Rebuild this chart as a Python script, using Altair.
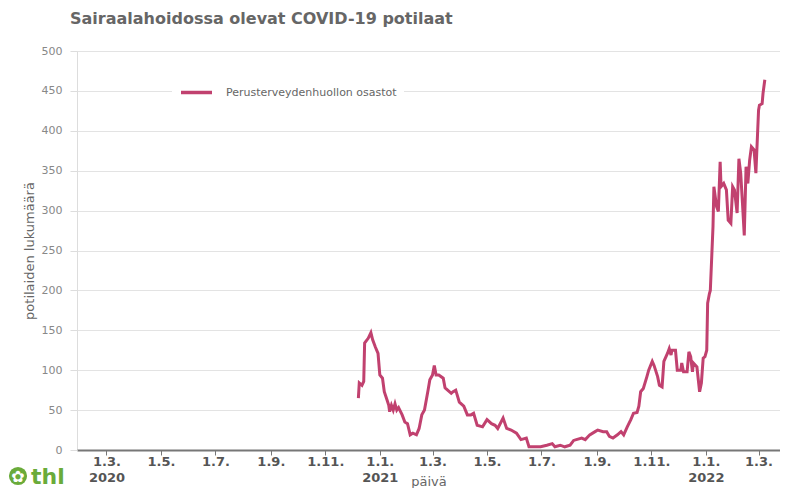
import altair as alt
import pandas as pd

dates = [
    "2020-12-08", "2020-12-09", "2020-12-12", "2020-12-14", "2020-12-15", "2020-12-17",
    "2020-12-19", "2020-12-22", "2020-12-24", "2020-12-27", "2020-12-30", "2021-01-01",
    "2021-01-04", "2021-01-06", "2021-01-09", "2021-01-11", "2021-01-12", "2021-01-14",
    "2021-01-16", "2021-01-18", "2021-01-20", "2021-01-22", "2021-01-26", "2021-01-29",
    "2021-02-01", "2021-02-04", "2021-02-07", "2021-02-11", "2021-02-14", "2021-02-17",
    "2021-02-20", "2021-02-24", "2021-02-26", "2021-03-01", "2021-03-03", "2021-03-05",
    "2021-03-08", "2021-03-13", "2021-03-15", "2021-03-16", "2021-03-22", "2021-03-24",
    "2021-03-27", "2021-03-31", "2021-04-05", "2021-04-09", "2021-04-13", "2021-04-16",
    "2021-04-20", "2021-04-26", "2021-05-01", "2021-05-06", "2021-05-10", "2021-05-13",
    "2021-05-19", "2021-05-23", "2021-05-28", "2021-06-03", "2021-06-08", "2021-06-14",
    "2021-06-17", "2021-06-23", "2021-06-30", "2021-07-07", "2021-07-13", "2021-07-16",
    "2021-07-22", "2021-07-27", "2021-08-02", "2021-08-06", "2021-08-09", "2021-08-15",
    "2021-08-19", "2021-08-24", "2021-08-30", "2021-09-02", "2021-09-08", "2021-09-12",
    "2021-09-15", "2021-09-19", "2021-09-24", "2021-09-28", "2021-10-01", "2021-10-05",
    "2021-10-09", "2021-10-12", "2021-10-16", "2021-10-18", "2021-10-20", "2021-10-23",
    "2021-10-27", "2021-10-29", "2021-11-02", "2021-11-04", "2021-11-08", "2021-11-10",
    "2021-11-13", "2021-11-15", "2021-11-19", "2021-11-21", "2021-11-23", "2021-11-24",
    "2021-11-28", "2021-11-30", "2021-12-04", "2021-12-05", "2021-12-07", "2021-12-11",
    "2021-12-13", "2021-12-15", "2021-12-17", "2021-12-18", "2021-12-22", "2021-12-25",
    "2021-12-27", "2021-12-29", "2021-12-31", "2022-01-02", "2022-01-03", "2022-01-05",
    "2022-01-06", "2022-01-09", "2022-01-10", "2022-01-13", "2022-01-15", "2022-01-17",
    "2022-01-18", "2022-01-21", "2022-01-24", "2022-01-26", "2022-01-29", "2022-01-31",
    "2022-02-02", "2022-02-05", "2022-02-07", "2022-02-09", "2022-02-11", "2022-02-13",
    "2022-02-15", "2022-02-17", "2022-02-19", "2022-02-21", "2022-02-24", "2022-02-26",
    "2022-03-01", "2022-03-02", "2022-03-05", "2022-03-06", "2022-03-08",
]

potilaat = [
    65, 84, 81, 86, 134, 137,
    140, 147, 138, 129, 121, 94,
    90, 73, 63, 56, 48, 56,
    50, 58, 50, 53, 44, 35,
    33, 19, 21, 19, 27, 44,
    50, 75, 88, 94, 106, 94,
    94, 90, 78, 77, 71, 73,
    75, 60, 55, 44, 44, 46,
    31, 29, 38, 33, 31, 27,
    40, 27, 25, 21, 13, 15,
    4, 4, 4, 6, 8, 4,
    6, 4, 6, 12, 13, 15,
    13, 19, 23, 25, 23, 23,
    17, 15, 19, 23, 19, 29,
    38, 46, 47, 55, 73, 77,
    92, 100, 111, 106, 92, 81,
    79, 111, 121, 127, 119, 125,
    125, 100, 100, 109, 98, 98,
    123, 117, 98, 109, 104, 73,
    84, 115, 117, 125, 184, 196,
    200, 280, 330, 305, 299, 361,
    330, 334, 326, 288, 284, 330,
    326, 297, 365, 347, 309, 269,
    355, 334, 363, 380, 376, 347,
    426, 432, 434, 447, 464,
]

sarja = "Perusterveydenhuollon osastot"
tick_dates = [
    (2020, 3), (2020, 5), (2020, 7), (2020, 9), (2020, 11),
    (2021, 1), (2021, 3), (2021, 5), (2021, 7), (2021, 9), (2021, 11),
    (2022, 1), (2022, 3),
]
y_ticks = [0, 50, 100, 150, 200, 250, 300, 350, 400, 450, 500]

df = pd.DataFrame({"pvm": dates, "potilaat": potilaat, "sarja": sarja})

label_expr = (
    "[utcFormat(datum.value, '%-d.%-m.'), "
    "(utcmonth(datum.value) == 0 || (utcyear(datum.value) == 2020 && utcmonth(datum.value) == 2)) "
    "? utcFormat(datum.value, '%Y') : '']"
)

line = alt.Chart(df).mark_line(strokeWidth=3).encode(
    x=alt.X(
        "pvm:T",
        scale=alt.Scale(
            type="utc",
            domain=[
                alt.DateTime(year=2020, month=1, date=28, utc=True),
                alt.DateTime(year=2022, month=3, date=25, utc=True),
            ],
        ),
        axis=alt.Axis(
            values=[alt.DateTime(year=y, month=m, date=1, utc=True) for y, m in tick_dates],
            labelExpr=label_expr,
            title="päivä",
            grid=False,
            domainColor="#777777",
            domainWidth=2,
            tickColor="#777777",
            tickSize=5,
            labelPadding=0,
            labelFont="DejaVu Sans",
            labelFontWeight="bold",
            labelFontSize=13,
            labelColor="#555555",
            labelLineHeight=16,
            titleFont="DejaVu Sans",
            titleFontWeight="normal",
            titleFontSize=13,
            titleColor="#666666",
            titleY=35,
            titleBaseline="alphabetic",
        ),
    ),
    y=alt.Y(
        "potilaat:Q",
        scale=alt.Scale(domain=[0, 500], nice=False),
        axis=alt.Axis(
            values=y_ticks,
            title="potilaiden lukumäärä",
            domain=False,
            grid=True,
            gridColor="#e3e3e3",
            tickColor="#dddddd",
            tickSize=7,
            labelPadding=8,
            labelFont="DejaVu Sans",
            labelFontSize=11,
            labelColor="#888888",
            titleFont="DejaVu Sans",
            titleFontWeight="normal",
            titleFontSize=13,
            titleColor="#666666",
            titlePadding=5,
        ),
    ),
    color=alt.Color(
        "sarja:N",
        scale=alt.Scale(range=["#c1416f"]),
        legend=alt.Legend(
            title=None,
            orient="none",
            legendX=95,
            legendY=17,
            direction="horizontal",
            fillColor="white",
            padding=7,
            symbolType="stroke",
            symbolSize=961,
            symbolStrokeWidth=3.5,
            labelOffset=12,
            labelLimit=400,
            labelFont="DejaVu Sans",
            labelFontSize=11,
            labelColor="#666666",
        ),
    ),
)

logo_df = pd.DataFrame({"t": ["thl"]})
logo_circle = alt.Chart(logo_df).mark_point(
    shape="circle", filled=True, size=330, color="#6aab3a", opacity=1,
).encode(x=alt.value(-59), y=alt.value(425))
logo_icon = alt.Chart(logo_df).mark_text(
    text="✿", font="DejaVu Sans", fontSize=16,
    color="white", align="center", baseline="middle",
).encode(x=alt.value(-59), y=alt.value(426))
logo_text = alt.Chart(logo_df).mark_text(
    font="DejaVu Sans", fontSize=22, fontWeight="bold",
    color="#6aab3a", align="left", baseline="alphabetic",
).encode(text="t:N", x=alt.value(-46), y=alt.value(433))

chart = alt.layer(line, logo_circle, logo_icon, logo_text).properties(
    width=703,
    height=399,
    autosize=alt.AutoSizeParams(type="none"),
    padding={"left": 69, "top": 43, "right": 0, "bottom": 38},
    title=alt.TitleParams(
        "Sairaalahoidossa olevat COVID-19 potilaat",
        anchor="start",
        frame="group",
        dx=-7,
        offset=18,
        font="DejaVu Sans",
        fontSize=16,
        fontWeight="bold",
        color="#666666",
    ),
).configure_view(stroke=None).configure(background="white")

chart.save("out.html", embed_options={"renderer": "svg", "actions": False})
